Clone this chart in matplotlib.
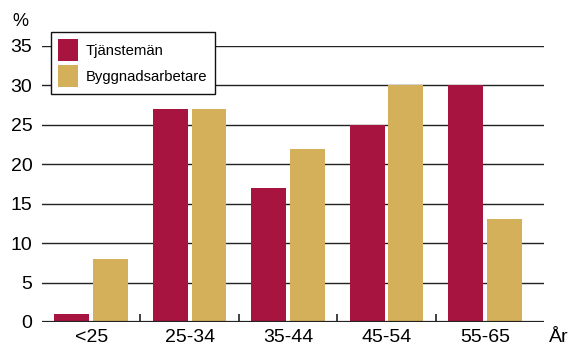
import numpy as np
import matplotlib.pyplot as plt

plt.rcParams['font.family'] = ['Liberation Sans', 'DejaVu Sans']

# åldersgrupper och andel per grupp (%)
aldersgrupper = ['<25', '25-34', '35-44', '45-54', '55-65']
tjansteman = [1, 27, 17, 25, 30]
byggnadsarbetare = [8, 27, 22, 30, 13]
yticks = [0, 5, 10, 15, 20, 25, 30, 35]

rod = '#A6143F'
guld = '#D4B05A'

fig = plt.figure(figsize=(5.68, 3.45), dpi=100)
ax = fig.add_axes([42 / 568, 23 / 345, 502 / 568, 276 / 345])

x = np.arange(len(aldersgrupper))
bredd = 0.354
ax.bar(x - 0.197, tjansteman, bredd, color=rod, label='Tjänstemän', zorder=3)
ax.bar(x + 0.197, byggnadsarbetare, bredd, color=guld, label='Byggnadsarbetare', zorder=3)

for v in yticks[1:]:
    ax.axhline(v, color='#222222', lw=1.0, zorder=1)
ax.axhline(0, color='#222222', lw=1.6, zorder=4)

ax.set_xlim(-0.5, 4.6)
ax.set_ylim(0, 35)
for s in ax.spines.values():
    s.set_visible(False)

ax.set_yticks(yticks)
ax.tick_params(axis='y', length=0, pad=7, labelsize=14)
ax.set_xticks(x)
ax.set_xticklabels(aldersgrupper)
ax.tick_params(axis='x', which='major', length=0, pad=5, labelsize=14)
ax.set_xticks(x[:-1] + 0.5, minor=True)
ax.tick_params(axis='x', which='minor', direction='in', length=6, width=1.2, color='#222222')

fig.text(12 / 568, 1 - 22 / 345, '%', fontsize=13, va='center', ha='left')
fig.text(549 / 568, 1 - 338 / 345, 'År', fontsize=14, va='center', ha='left')

leg = ax.legend(loc='upper left', bbox_to_anchor=(9 / 502, 1 + 14 / 276), fontsize=10.7,
                frameon=True, fancybox=False, edgecolor='#111111', framealpha=1,
                handlelength=1.3, handleheight=1.85, borderpad=0.5, labelspacing=0.3,
                handletextpad=0.55, borderaxespad=0)
leg.get_frame().set_linewidth(1.0)
leg.set_zorder(10)

fig.savefig('out.png', dpi=100)
